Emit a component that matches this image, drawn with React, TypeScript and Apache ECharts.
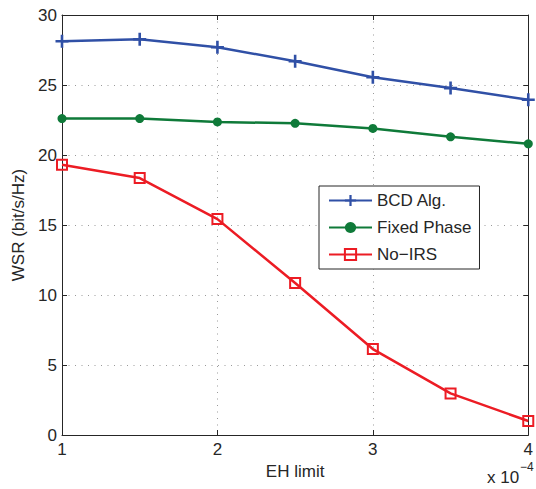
import React, { useEffect, useRef } from "react";
import * as echarts from "echarts";

const xValues = [1, 1.5, 2, 2.5, 3, 3.5, 4];
const bcdAlg = [28.12, 28.27, 27.7, 26.7, 25.55, 24.78, 23.95];
const fixedPhase = [22.6, 22.6, 22.36, 22.26, 21.9, 21.3, 20.8];
const noIrs = [19.3, 18.35, 15.42, 10.86, 6.14, 2.97, 1.0];
const seriesNames = ["BCD Alg.", "Fixed Phase", "No\u2212IRS"];

const FONT = "'Liberation Sans', Arial, Helvetica, sans-serif";
const TXT = "#262626";

const pair = (ys: number[]) => xValues.map((x, i) => [x, ys[i]]);

export default function App() {
  const ref = useRef<HTMLDivElement>(null);
  useEffect(() => {
    if (!ref.current) return;
    const chart = echarts.init(ref.current, undefined, { renderer: "svg" });
    const gridDots = { show: true, lineStyle: { color: "#9a9a9a", width: 1, type: [1, 5.5] as any } };
    const baseAxisLine = { show: true, onZero: false, lineStyle: { color: "#262626", width: 1 } };
    const tick = { show: true, inside: true, length: 5, lineStyle: { color: "#262626" } };
    chart.setOption({
      animation: false,
      backgroundColor: "#fff",
      grid: { left: 62, top: 15, width: 467, height: 420, containLabel: false },
      legend: {
        orient: "vertical",
        left: 319,
        top: 186,
        padding: [6, 8, 6, 9],
        itemWidth: 43,
        itemHeight: 14,
        itemGap: 10,
        backgroundColor: "#fff",
        borderColor: "#262626",
        borderWidth: 1,
        borderRadius: 0,
        textStyle: { fontFamily: FONT, fontSize: 17, color: TXT },
        data: seriesNames,
      },
      xAxis: [
        {
          type: "value",
          min: 1,
          max: 4,
          interval: 1,
          position: "bottom",
          axisLine: baseAxisLine,
          axisTick: tick,
          splitLine: gridDots,
          axisLabel: { margin: 6, fontFamily: FONT, fontSize: 17, color: TXT },
          name: "EH limit",
          nameLocation: "middle",
          nameGap: 24,
          nameTextStyle: { fontFamily: FONT, fontSize: 17, color: TXT },
        },
        {
          type: "value",
          min: 1,
          max: 4,
          interval: 1,
          position: "top",
          axisLine: baseAxisLine,
          axisTick: tick,
          splitLine: { show: false },
          axisLabel: { show: false },
        },
      ],
      yAxis: [
        {
          type: "value",
          min: 0,
          max: 30,
          interval: 5,
          position: "left",
          axisLine: baseAxisLine,
          axisTick: tick,
          splitLine: gridDots,
          axisLabel: { margin: 5, fontFamily: FONT, fontSize: 17, color: TXT },
          name: "WSR (bit/s/Hz)",
          nameLocation: "middle",
          nameGap: 30,
          nameRotate: 90,
          nameTextStyle: { fontFamily: FONT, fontSize: 17, color: TXT },
        },
        {
          type: "value",
          min: 0,
          max: 30,
          interval: 5,
          position: "right",
          axisLine: baseAxisLine,
          axisTick: tick,
          splitLine: { show: false },
          axisLabel: { show: false },
        },
      ],
      graphic: [
        {
          type: "text",
          left: 487,
          top: 469,
          silent: true,
          style: { text: "x 10", fontFamily: FONT, fontSize: 17, fill: TXT },
        },
        {
          type: "text",
          left: 520,
          top: 461,
          silent: true,
          style: { text: "\u22124", fontFamily: FONT, fontSize: 12, fill: TXT },
        },
      ],
      series: [
        {
          name: seriesNames[0],
          type: "line",
          data: pair(bcdAlg),
          symbol: "path://M4,0H6V4H10V6H6V10H4V6H0V4H4Z",
          symbolSize: 13,
          lineStyle: { color: "#3050a6", width: 2.5 },
          itemStyle: { color: "#3050a6" },
          z: 3,
        },
        {
          name: seriesNames[1],
          type: "line",
          data: pair(fixedPhase),
          symbol: "circle",
          symbolSize: 9,
          lineStyle: { color: "#0f7a39", width: 2.5 },
          itemStyle: { color: "#0f7a39" },
          z: 3,
        },
        {
          name: seriesNames[2],
          type: "line",
          data: pair(noIrs),
          symbol: "rect",
          symbolSize: 10,
          lineStyle: { color: "#ec1c24", width: 2.5 },
          itemStyle: { color: "rgba(0,0,0,0)", borderColor: "#ec1c24", borderWidth: 2 },
          z: 3,
        },
      ],
    });
    return () => chart.dispose();
  }, []);
  return (
    <div
      ref={ref}
      style={{ position: "fixed", left: 0, top: 0, width: 536, height: 489, background: "#fff" }}
    />
  );
}
